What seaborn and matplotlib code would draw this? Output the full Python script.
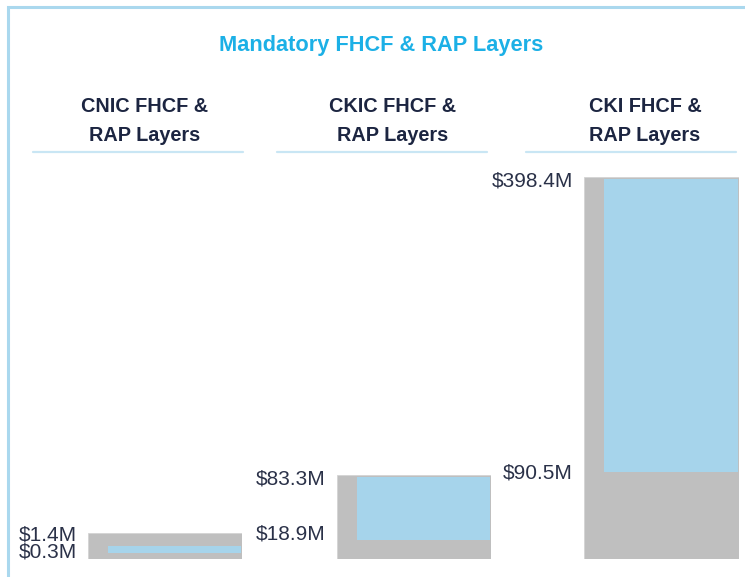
import matplotlib
matplotlib.use("Agg")
import matplotlib.pyplot as plt
import seaborn as sns
from matplotlib.lines import Line2D
from matplotlib.patches import Rectangle

# ---- data ----
panels = ["CNIC FHCF &\nRAP Layers", "CKIC FHCF &\nRAP Layers", "CKI FHCF &\nRAP Layers"]
totals = [1.4, 83.3, 398.4]          # $M, grey bar top
lower_values = [0.3, 18.9, 90.5]     # $M, bottom of blue layer
layer_tops = [0.7, 81.3, 396.3]      # $M, top of blue layer (as drawn)
top_labels = ["$1.4M", "$83.3M", "$398.4M"]
low_labels = ["$0.3M", "$18.9M", "$90.5M"]
title = "Mandatory FHCF & RAP Layers"

GREY = "#bfbfbf"
BLUE = "#a6d4eb"
NAVY = "#1c2541"
LABEL = "#2a3148"
TITLE = "#1cb0e6"
LINE = "#c9e6f4"
FONT = ["Liberation Sans Narrow", "Liberation Sans", "DejaVu Sans"]

sns.set_theme(style="white")
plt.rcParams["font.family"] = FONT

W, H = 745, 577
fig = plt.figure(figsize=(W / 100, H / 100), dpi=100)
fig.patch.set_facecolor("white")

# frame border (left & top visible)
fig.add_artist(Rectangle((8 / W, -0.1), 1.2, 1 - 7 / H + 0.1, transform=fig.transFigure,
                         fill=False, edgecolor="#aad8ee", linewidth=2.2))

fig.text(381 / W, 1 - 46 / H, title, ha="center", va="center", color=TITLE,
         fontsize=15.7, fontweight="bold", family=FONT)

# layout: axes pixel rects (left, right), bottom baseline at 559 px, axes top at 150 px
x_rects = [(88, 242), (337, 491), (584, 739)]
bar_top_px = [533, 475, 177]
sub_centers = [145, 393, 645]
underlines = [(33, 243), (277, 487), (526, 736)]
top_offsets_px = [-2, -4, -4]
low_offsets_px = [1, 6, -1]   # upward shift of lower label
base_px, axtop_px = 559, 150

for i in range(3):
    xl, xr = x_rects[i]
    ax = fig.add_axes([xl / W, 1 - base_px / H, (xr - xl) / W, (base_px - axtop_px) / H])
    sns.barplot(x=[panels[i]], y=[totals[i]], color=GREY, saturation=1, width=0.8,
                ax=ax, edgecolor="#d4d4d4", linewidth=0.6)
    blue_w = 0.8 * 0.865
    ax.bar(0.4 - 0.004, layer_tops[i] - lower_values[i], bottom=lower_values[i],
           width=-blue_w, align="edge", color=BLUE, linewidth=0)
    ytop = totals[i] * (base_px - axtop_px) / (base_px - bar_top_px[i])
    ax.set_xlim(-0.4, 0.4)
    ax.set_ylim(0, ytop)
    ax.axis("off")

    ax.annotate(top_labels[i], xy=(-0.4, totals[i]), xytext=(-11 * 0.72, top_offsets_px[i] * 0.72),
                textcoords="offset points", ha="right", va="center", fontsize=15,
                color=LABEL, family=FONT, annotation_clip=False)
    ax.annotate(low_labels[i], xy=(-0.4, lower_values[i]),
                xytext=(-11 * 0.72, low_offsets_px[i] * 0.72),
                textcoords="offset points", ha="right", va="center", fontsize=15,
                color=LABEL, family=FONT, annotation_clip=False)

    fig.text(sub_centers[i] / W, 1 - 121 / H, panels[i], ha="center", va="center",
             color=NAVY, fontsize=14.3, fontweight="bold", linespacing=1.68, family=FONT)
    ul, ur = underlines[i]
    fig.add_artist(Line2D([ul / W, ur / W], [1 - 152 / H] * 2, transform=fig.transFigure,
                          color=LINE, linewidth=1.6))

fig.savefig("out.png", dpi=100)
